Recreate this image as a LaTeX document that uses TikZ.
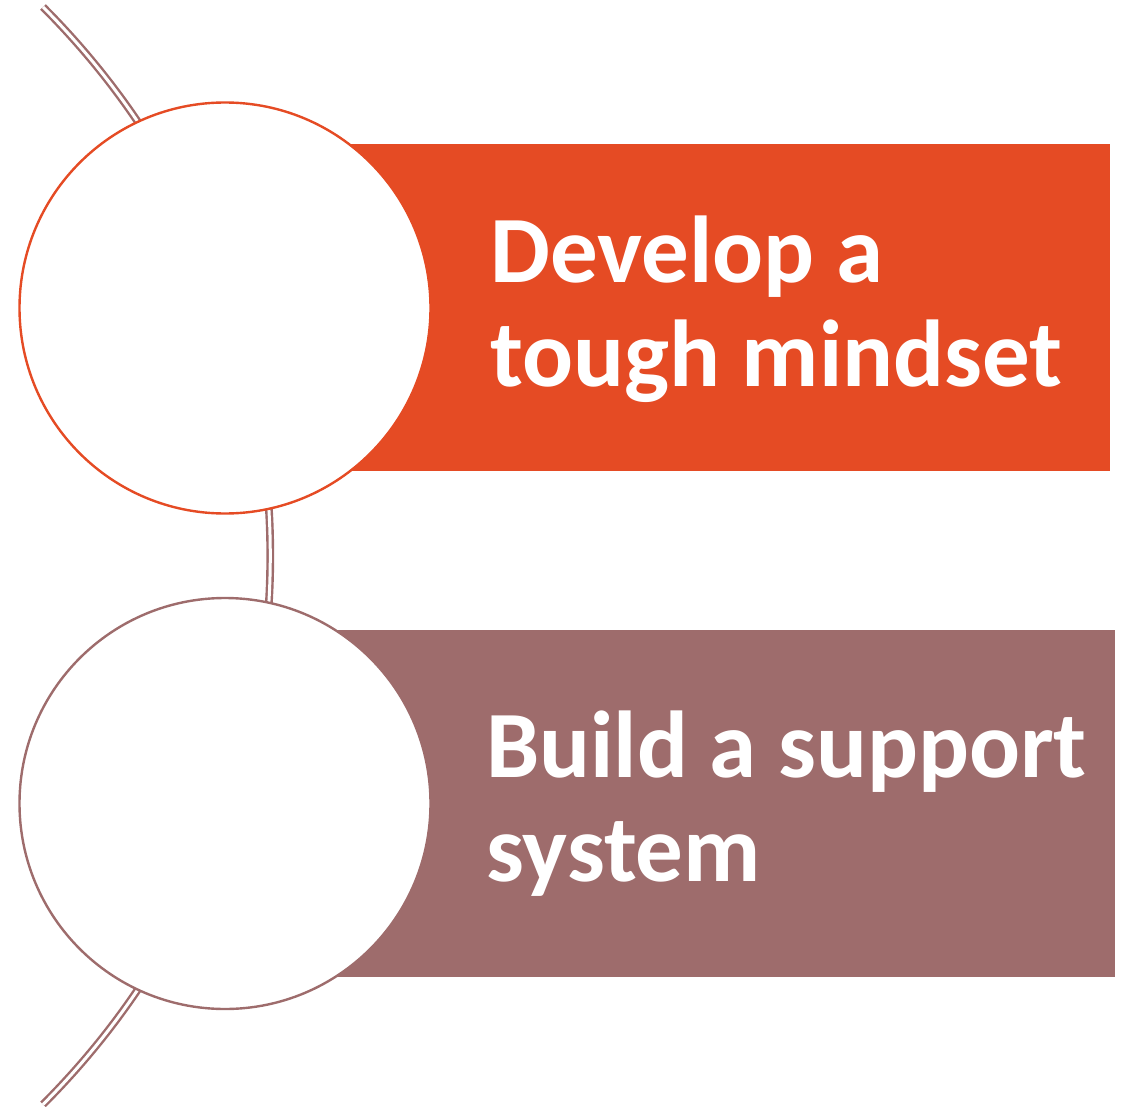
\documentclass[tikz,border=0pt]{standalone}
\usepackage{fontspec}
\setmainfont{Carlito}
\definecolor{flame}{HTML}{E54B24}
\definecolor{rosewood}{HTML}{9E6C6C}
\begin{document}
\begin{tikzpicture}[x=1pt,y=-1pt,
  bar/.style={fill=#1, draw=none, anchor=north west, inner sep=0},
  disc/.style={circle, draw=#1, line width=2.4pt, fill=white, minimum size=411pt, inner sep=0},
  label/.style={text=white, anchor=base west, inner sep=0, align=left,
    font=\bfseries\fontsize{95}{104}\selectfont}]
  \useasboundingbox (0,0) rectangle (1124,1107);
  \draw[rosewood, line width=2.4pt, double=white, double distance=3pt]
    (43,7) arc[start angle=-45, end angle=45, radius=776];
  \node[bar=flame, minimum width=885pt, minimum height=327pt] (top) at (225,144) {};
  \node[bar=rosewood, minimum width=890pt, minimum height=347pt] (bottom) at (225,629.5) {};
  \node[disc=flame] (c1) at (225,308) {};
  \node[disc=rosewood] (c2) at (225,803.5) {};
  \node[label] (t1) at (490,386) {Develop a\\tough mindset};
  \node[label] (t2) at (486,881) {Build a support\\system};
\end{tikzpicture}
\end{document}
